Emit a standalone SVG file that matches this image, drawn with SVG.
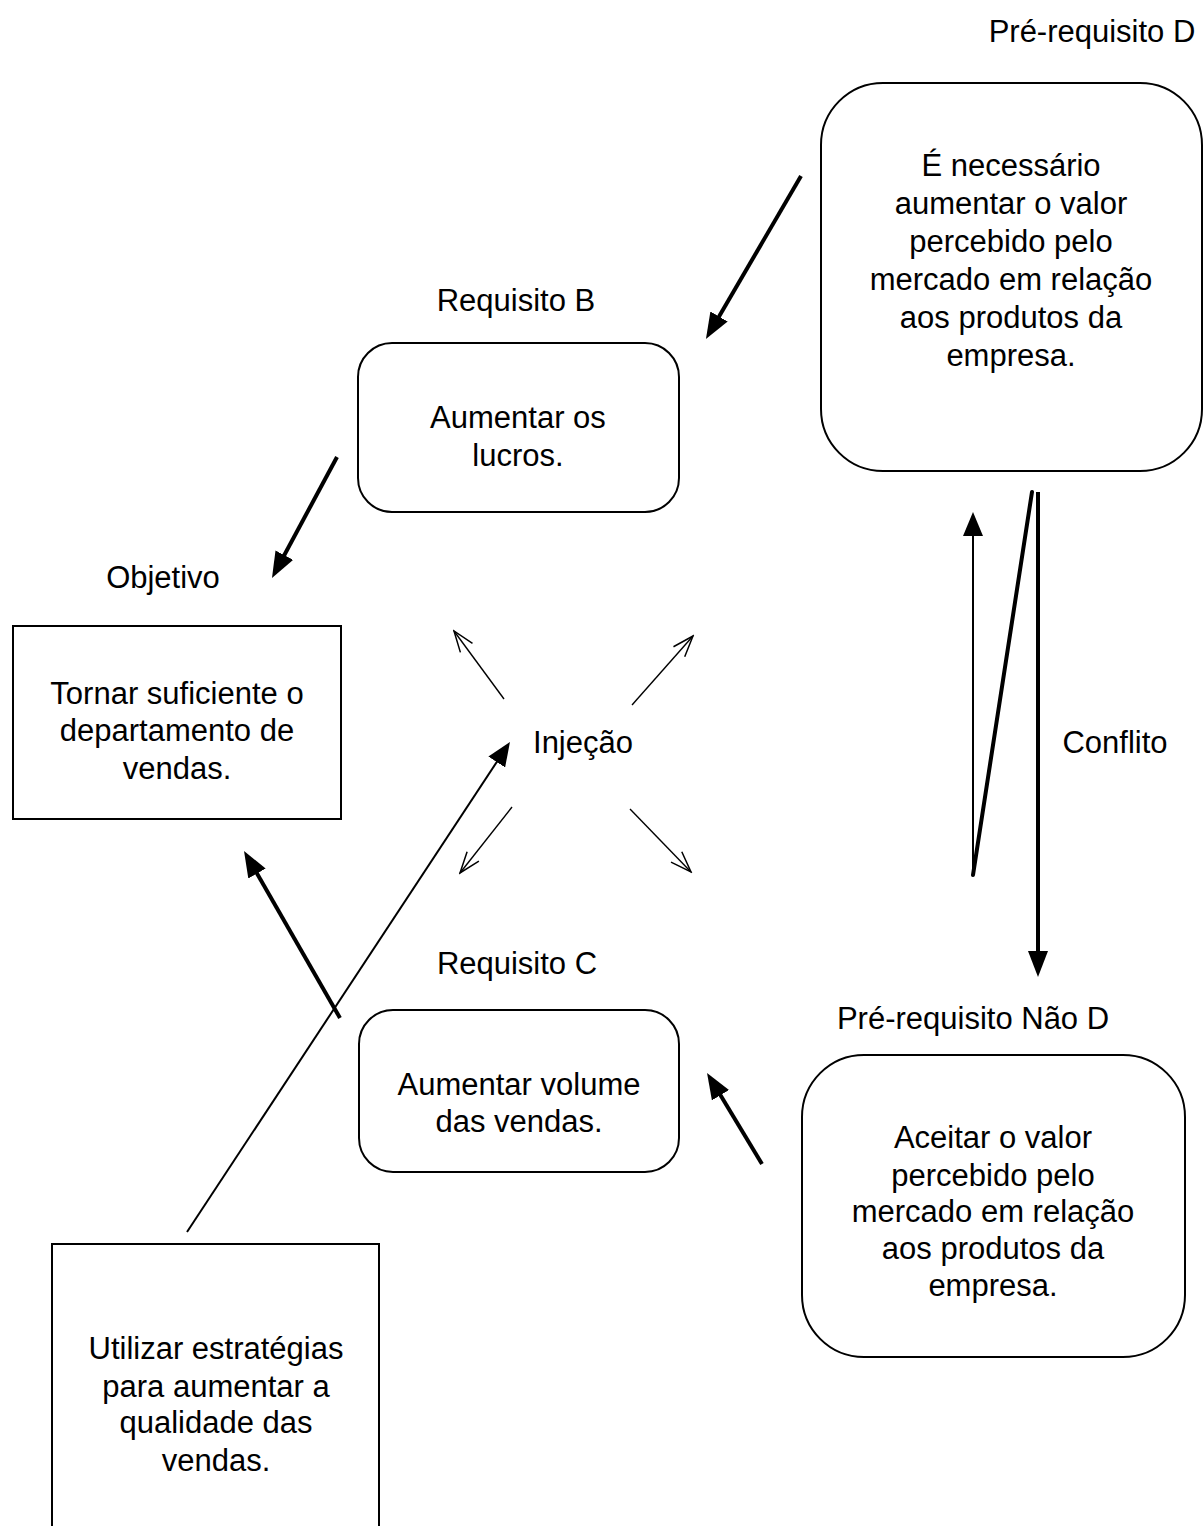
<svg xmlns="http://www.w3.org/2000/svg" width="1204" height="1526" viewBox="0 0 1204 1526">
  <style>
    text { font-family: "Liberation Sans", Arial, sans-serif; font-size: 31px; fill: #000; text-anchor: middle; }
    .box { fill: #fff; stroke: #000; stroke-width: 2; }
    .thick { stroke: #000; stroke-width: 4; fill: none; }
    .thin { stroke: #000; stroke-width: 2; fill: none; }
    .hair { stroke: #000; stroke-width: 1.4; fill: none; }
  </style>
  <defs>
    <marker id="headSolid" markerUnits="userSpaceOnUse" markerWidth="26" markerHeight="20" refX="11" refY="10" orient="auto">
      <path d="M0,0 L26,10 L0,20 z" fill="#000"/>
    </marker>
    <marker id="headSolidThin" markerUnits="userSpaceOnUse" markerWidth="24" markerHeight="20" refX="9" refY="10" orient="auto">
      <path d="M0,0 L24,10 L0,20 z" fill="#000"/>
    </marker>
    <marker id="headOpen" markerUnits="userSpaceOnUse" markerWidth="24" markerHeight="18" refX="22" refY="9" orient="auto">
      <path d="M1,1.5 L22,9 L1,16.5" fill="none" stroke="#000" stroke-width="1.5"/>
    </marker>
  </defs>

  <rect width="1204" height="1526" fill="#fff"/>

  <!-- connectors -->
  <g id="connectors">
    <line class="thick" x1="801" y1="176" x2="713.5" y2="326" marker-end="url(#headSolid)"/>
    <line class="thick" x1="337" y1="457" x2="279.1" y2="564.8" marker-end="url(#headSolid)"/>
    <line class="thick" x1="340" y1="1018" x2="251.5" y2="864" marker-end="url(#headSolid)"/>
    <line class="thick" x1="762" y1="1164" x2="714.8" y2="1085.8" marker-end="url(#headSolid)"/>
    <line class="thin" x1="187" y1="1232" x2="501.7" y2="754.5" marker-end="url(#headSolidThin)"/>

    <!-- arrows radiating from the injection -->
    <line class="hair" x1="504" y1="699" x2="454" y2="631" marker-end="url(#headOpen)"/>
    <line class="hair" x1="632" y1="705" x2="693" y2="636" marker-end="url(#headOpen)"/>
    <line class="hair" x1="512" y1="807" x2="460" y2="873" marker-end="url(#headOpen)"/>
    <line class="hair" x1="630" y1="809" x2="691" y2="872" marker-end="url(#headOpen)"/>

    <!-- conflict between the two prerequisites -->
    <line class="thin" x1="973" y1="875" x2="973" y2="527" marker-end="url(#headSolidThin)"/>
    <line class="thick" x1="973" y1="875" x2="1032" y2="492" stroke-linecap="round"/>
    <line class="thick" x1="1038" y1="492" x2="1038" y2="962" marker-end="url(#headSolid)"/>
  </g>

  <!-- prerequisite D -->
  <g id="prereq-d">
    <text x="1092" y="42">Pré-requisito D</text>
    <rect class="box" x="821" y="83" width="381" height="388" rx="62" ry="62"/>
    <text x="1011" y="176">É necessário</text>
    <text x="1011" y="214">aumentar o valor</text>
    <text x="1011" y="252">percebido pelo</text>
    <text x="1011" y="290">mercado em relação</text>
    <text x="1011" y="328">aos produtos da</text>
    <text x="1011" y="366">empresa.</text>
  </g>

  <!-- requirement B -->
  <g id="req-b">
    <text x="516" y="311">Requisito B</text>
    <rect class="box" x="358" y="343" width="321" height="169" rx="34" ry="34"/>
    <text x="518" y="428">Aumentar os</text>
    <text x="518" y="466">lucros.</text>
  </g>

  <!-- objective -->
  <g id="objetivo">
    <text x="163" y="588">Objetivo</text>
    <rect class="box" x="13" y="626" width="328" height="193"/>
    <text x="177" y="704">Tornar suficiente o</text>
    <text x="177" y="741">departamento de</text>
    <text x="177" y="779">vendas.</text>
  </g>

  <!-- injection label -->
  <g id="injecao">
    <text x="583" y="753">Injeção</text>
  </g>

  <!-- conflict label -->
  <g id="conflito">
    <text x="1115" y="753">Conflito</text>
  </g>

  <!-- requirement C -->
  <g id="req-c">
    <text x="517" y="974">Requisito C</text>
    <rect class="box" x="359" y="1010" width="320" height="162" rx="34" ry="34"/>
    <text x="519" y="1095">Aumentar volume</text>
    <text x="519" y="1132">das vendas.</text>
  </g>

  <!-- prerequisite not D -->
  <g id="prereq-nao-d">
    <text x="973" y="1029">Pré-requisito Não D</text>
    <rect class="box" x="802" y="1055" width="383" height="302" rx="62" ry="62"/>
    <text x="993" y="1148">Aceitar o valor</text>
    <text x="993" y="1186">percebido pelo</text>
    <text x="993" y="1222">mercado em relação</text>
    <text x="993" y="1259">aos produtos da</text>
    <text x="993" y="1296">empresa.</text>
  </g>

  <!-- injection strategy -->
  <g id="estrategia">
    <rect class="box" x="52" y="1244" width="327" height="320"/>
    <text x="216" y="1359">Utilizar estratégias</text>
    <text x="216" y="1397">para aumentar a</text>
    <text x="216" y="1433">qualidade das</text>
    <text x="216" y="1471">vendas.</text>
  </g>
</svg>
